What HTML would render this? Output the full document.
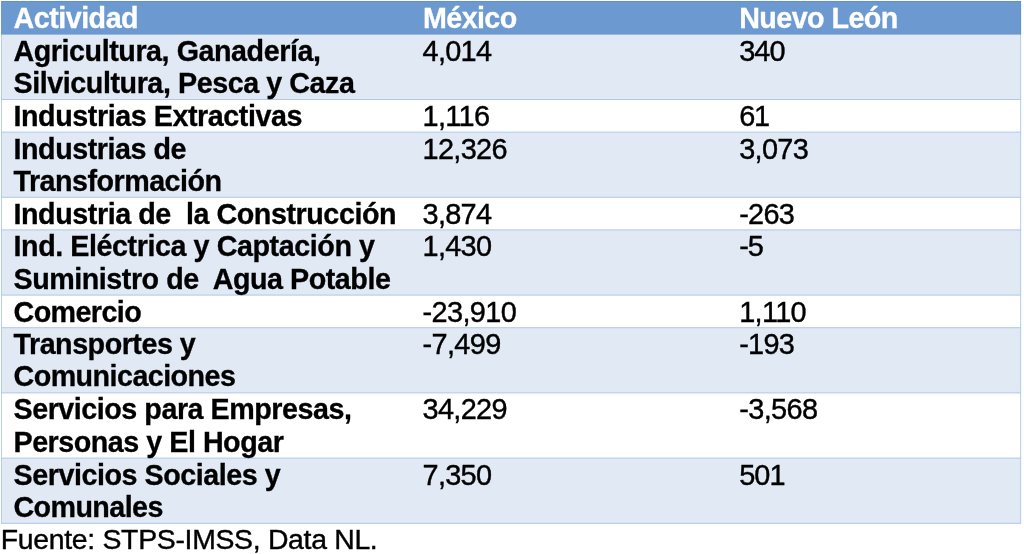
<!DOCTYPE html>
<html lang="es"><head><meta charset="utf-8"><title>Tabla</title>
<style>
html,body{margin:0;padding:0;background:#fff;}
body{width:1024px;height:554px;overflow:hidden;}
svg{display:block;position:absolute;left:0;top:0;}
text{font-family:"Liberation Sans",Arial,Helvetica,sans-serif;white-space:pre;}
.b{font-weight:bold;font-size:28.7px;stroke-width:0.3px;}
.n{font-size:28.9px;stroke-width:0.4px;}
.f{font-size:28.4px;}
.c{font-size:1.035em;}
</style></head><body>
<svg width="1024" height="554" viewBox="0 0 1024 554" xml:space="preserve">
<rect x="1.10" y="32.30" width="1020.00" height="491.50" fill="#e0e9f4"/>
<rect x="1.10" y="99.50" width="1020.00" height="32.60" fill="#fff"/>
<rect x="1.10" y="197.30" width="1020.00" height="32.60" fill="#fff"/>
<rect x="1.10" y="295.10" width="1020.00" height="32.60" fill="#fff"/>
<rect x="1.10" y="392.90" width="1020.00" height="65.20" fill="#fff"/>
<rect x="1.10" y="99.00" width="1020.00" height="1" fill="#b0c9ea"/>
<rect x="1.10" y="131.60" width="1020.00" height="1" fill="#b0c9ea"/>
<rect x="1.10" y="196.80" width="1020.00" height="1" fill="#b0c9ea"/>
<rect x="1.10" y="229.40" width="1020.00" height="1" fill="#b0c9ea"/>
<rect x="1.10" y="294.60" width="1020.00" height="1" fill="#b0c9ea"/>
<rect x="1.10" y="327.20" width="1020.00" height="1" fill="#b0c9ea"/>
<rect x="1.10" y="392.40" width="1020.00" height="1" fill="#b0c9ea"/>
<rect x="1.10" y="457.60" width="1020.00" height="1" fill="#b0c9ea"/>
<rect x="1.10" y="522.80" width="1020.00" height="1" fill="#b0c9ea"/>
<rect x="1.10" y="33.30" width="0.9" height="490.50" fill="#b0c9ea"/>
<rect x="1020.20" y="33.30" width="0.9" height="490.50" fill="#b0c9ea"/>
<rect x="1.10" y="1.00" width="1020.00" height="33.50" fill="#6090cc"/>
<rect x="1.90" y="1.90" width="1018.40" height="32.20" fill="#6b99d0"/>
<text x="13.50" y="28.00" class="b" fill="#fff" stroke="#fff" style="letter-spacing:-0.500px">Actividad</text>
<text x="423.00" y="28.00" class="b" fill="#fff" stroke="#fff" style="letter-spacing:-0.603px">México</text>
<text x="739.20" y="28.00" class="b" fill="#fff" stroke="#fff" style="letter-spacing:-0.566px">Nuevo León</text>
<text x="13.50" y="60.80" class="b" fill="#000" stroke="#000" style="letter-spacing:-0.447px">Agricultura, Ganadería,</text>
<text x="13.50" y="93.00" class="b" fill="#000" stroke="#000" style="letter-spacing:-0.438px">Silvicultura, Pesca y Caza</text>
<text x="422.50" y="60.70" class="n" fill="#000" stroke="#000" style="letter-spacing:-0.688px">4,014</text>
<text x="739.20" y="60.70" class="n" fill="#000" stroke="#000" style="letter-spacing:-0.906px">340</text>
<text x="13.50" y="126.00" class="b" fill="#000" stroke="#000" style="letter-spacing:-0.440px">Industrias Extractivas</text>
<text x="422.50" y="125.90" class="n" fill="#000" stroke="#000" style="letter-spacing:-0.664px">1,116</text>
<text x="739.20" y="125.90" class="n" fill="#000" stroke="#000" style="letter-spacing:-1.219px">61</text>
<text x="13.50" y="158.60" class="b" fill="#000" stroke="#000" style="letter-spacing:-0.462px">Industrias de</text>
<text x="13.50" y="190.80" class="b" fill="#000" stroke="#000" style="letter-spacing:-0.514px">Transformación</text>
<text x="422.50" y="158.50" class="n" fill="#000" stroke="#000" style="letter-spacing:-0.669px">12,326</text>
<text x="739.20" y="158.50" class="n" fill="#000" stroke="#000" style="letter-spacing:-0.688px">3,073</text>
<text x="13.50" y="223.80" class="b" fill="#000" stroke="#000" style="letter-spacing:-0.438px">Industria de  la Construcción</text>
<text x="422.50" y="223.70" class="n" fill="#000" stroke="#000" style="letter-spacing:-0.688px">3,874</text>
<text x="739.20" y="223.70" class="n" fill="#000" stroke="#000" style="letter-spacing:-0.729px">-263</text>
<text x="13.50" y="256.40" class="b" fill="#000" stroke="#000" style="letter-spacing:-0.429px">Ind. Eléctrica y Captación y</text>
<text x="13.50" y="288.60" class="b" fill="#000" stroke="#000" style="letter-spacing:-0.465px">Suministro de  Agua Potable</text>
<text x="422.50" y="256.30" class="n" fill="#000" stroke="#000" style="letter-spacing:-0.688px">1,430</text>
<text x="739.20" y="256.30" class="n" fill="#000" stroke="#000" style="letter-spacing:-0.984px">-5</text>
<text x="13.50" y="321.60" class="b" fill="#000" stroke="#000" style="letter-spacing:-0.587px">Comercio</text>
<text x="422.50" y="321.50" class="n" fill="#000" stroke="#000" style="letter-spacing:-0.620px">-23,910</text>
<text x="739.20" y="321.50" class="n" fill="#000" stroke="#000" style="letter-spacing:-0.664px">1,110</text>
<text x="13.50" y="354.20" class="b" fill="#000" stroke="#000" style="letter-spacing:-0.487px">Transportes y</text>
<text x="13.50" y="386.40" class="b" fill="#000" stroke="#000" style="letter-spacing:-0.548px">Comunicaciones</text>
<text x="422.50" y="354.10" class="n" fill="#000" stroke="#000" style="letter-spacing:-0.619px">-7,499</text>
<text x="739.20" y="354.10" class="n" fill="#000" stroke="#000" style="letter-spacing:-0.729px">-193</text>
<text x="13.50" y="419.40" class="b" fill="#000" stroke="#000" style="letter-spacing:-0.471px">Servicios para Empresas,</text>
<text x="13.50" y="451.60" class="b" fill="#000" stroke="#000" style="letter-spacing:-0.482px">Personas y El Hogar</text>
<text x="422.50" y="419.30" class="n" fill="#000" stroke="#000" style="letter-spacing:-0.669px">34,229</text>
<text x="739.20" y="419.30" class="n" fill="#000" stroke="#000" style="letter-spacing:-0.619px">-3,568</text>
<text x="13.50" y="484.60" class="b" fill="#000" stroke="#000" style="letter-spacing:-0.451px">Servicios Sociales y</text>
<text x="13.50" y="516.80" class="b" fill="#000" stroke="#000" style="letter-spacing:-0.600px">Comunales</text>
<text x="422.50" y="484.50" class="n" fill="#000" stroke="#000" style="letter-spacing:-0.688px">7,350</text>
<text x="739.20" y="484.50" class="n" fill="#000" stroke="#000" style="letter-spacing:-0.906px">501</text>
<text x="0.80" y="548.90" class="n f" fill="#000" stroke="#000" style="letter-spacing:-0.309px">Fuente: STPS-IMSS, Data NL.</text>
</svg>
</body></html>
